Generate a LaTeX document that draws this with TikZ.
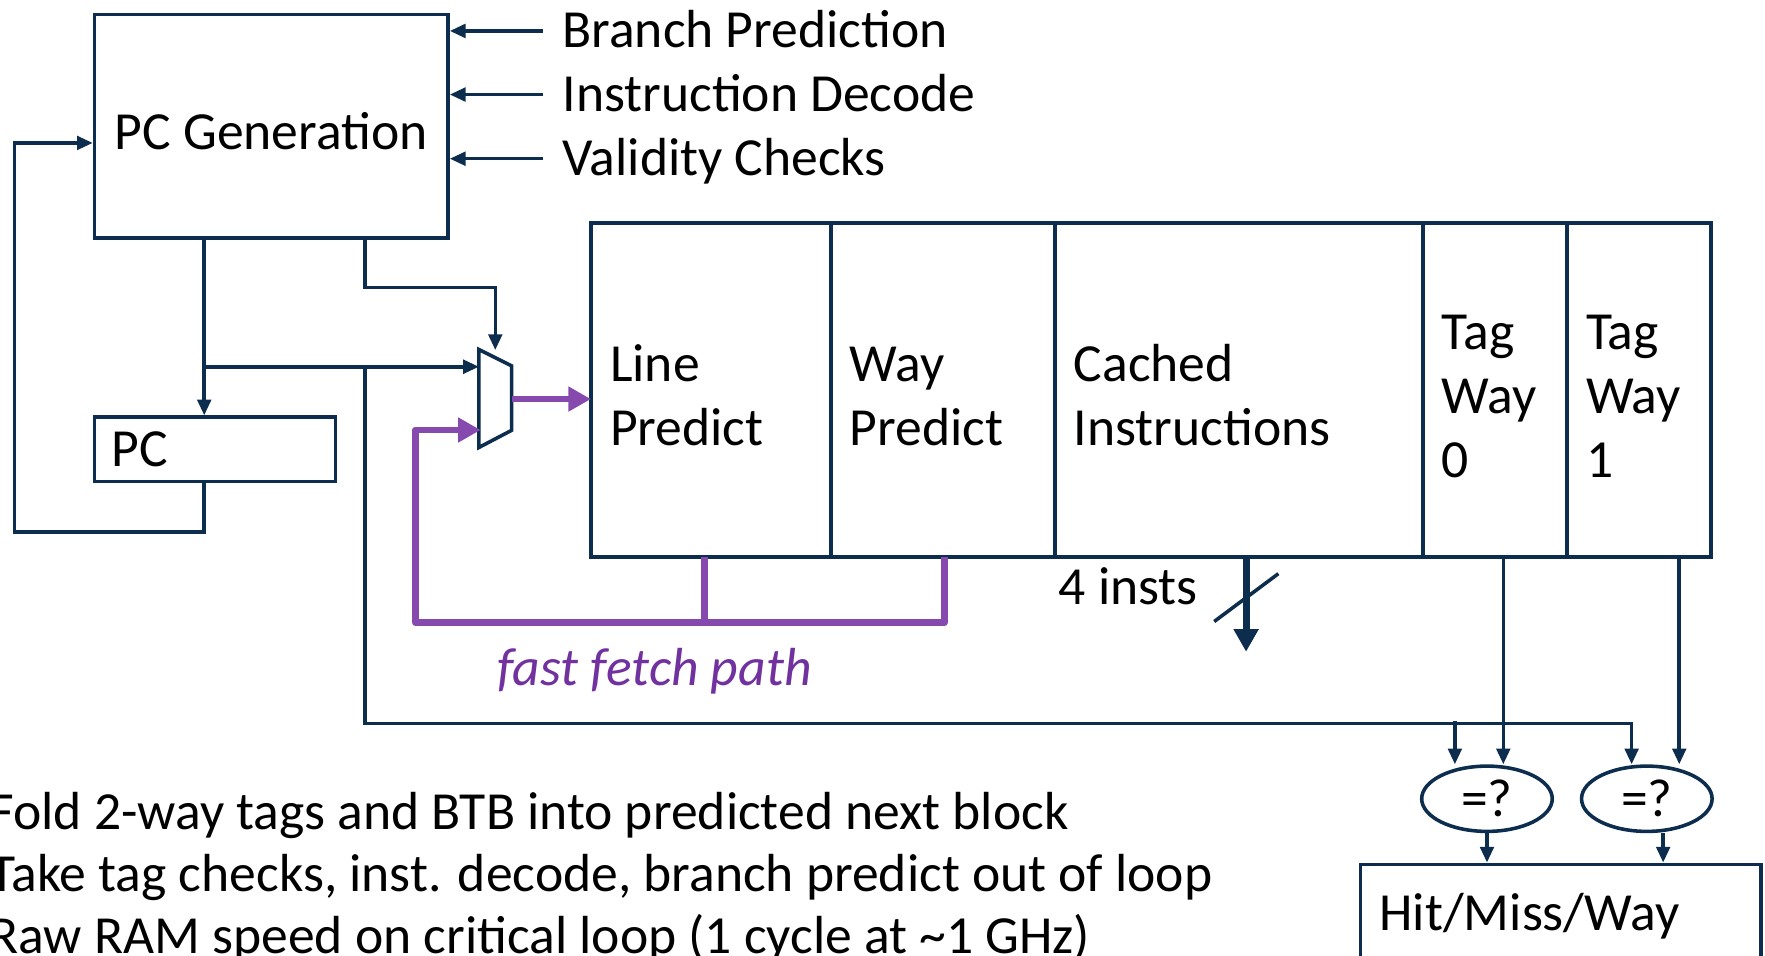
\documentclass[tikz,border=0pt]{standalone}
\usepackage{fontspec}
\setmainfont{Carlito}
\usepackage{xcolor}
\usepackage{tikz}
\usetikzlibrary{calc, positioning, arrows.meta, shapes.geometric}
\definecolor{navy}{RGB}{12,45,77}
\definecolor{fastLine}{RGB}{134,73,173}
\definecolor{fastInk}{RGB}{113,50,160}
\tikzset{
    every node/.style={font=\fontsize{13.55}{16.2}\selectfont},
    block/.style={rectangle, draw=navy, line width=0.9pt, fill=white, align=center, execute at begin node={\rule{0pt}{12pt}}},
    reg/.style={rectangle, draw=navy, line width=0.9pt, fill=white, align=left, inner xsep=1.5mm},
    cell/.style={rectangle, draw=navy, line width=0.9pt, outer sep=0pt, minimum height=2.97cm, align=left, inner xsep=1.7mm, execute at begin node={\rule{0pt}{12pt}}},
    cmp/.style={ellipse, draw=navy, line width=0.9pt, fill=white, minimum width=1.16cm, minimum height=0.58cm, inner sep=0pt},
    inLabel/.style={anchor=west, inner xsep=1.7mm, text height=8.6pt, text depth=0pt},
    note/.style={anchor=base west, inner sep=0pt},
    fastLabel/.style={note, text=fastInk, font=\fontsize{13.55}{16.2}\selectfont\itshape},
    wire/.style={draw=navy, line width=0.9pt},
    arrow/.style={wire, -{Triangle[length=1.4mm, width=1.2mm]}},
    bus/.style={draw=navy, line width=1.8pt, -{Triangle[length=2mm, width=2.1mm]}},
    fastpath/.style={draw=fastLine, line width=1.7pt, line join=round},
    fastarrow/.style={fastpath, -{Triangle[length=2mm, width=2.1mm]}}
}

\begin{document}
\begin{tikzpicture}
        \useasboundingbox (0,0) rectangle (15.68,-8.49);
        \clip (0,0) rectangle (15.68,-8.49);

        % PC generation and PC register
        \node[block, minimum width=3.14cm, minimum height=1.985cm] (PCGen) at (2.41,-1.122) {PC Generation};
        \node[reg, text width=1.84cm, minimum width=2.14cm, minimum height=0.572cm, below=1.56cm of PCGen.south west, anchor=north west] (PCReg) {PC};

        % Inputs to PC generation
        \node[inLabel] (BrPred) at (4.82,-0.275) {Branch Prediction};
        \node[inLabel] (InstDec) at (4.82,-0.84) {Instruction Decode};
        \node[inLabel] (ValChk) at (4.82,-1.41) {Validity Checks};
        \draw[arrow] (BrPred.west) -- (BrPred.west -| PCGen.east);
        \draw[arrow] (InstDec.west) -- (InstDec.west -| PCGen.east);
        \draw[arrow] (ValChk.west) -- (ValChk.west -| PCGen.east);

        % Cache line
        \node[cell, text width=1.79cm, anchor=north west] (LinePred) at (5.25,-1.98) {Line\\Predict};
        \node[cell, text width=1.65cm, right=0pt of LinePred] (WayPred) {Way\\Predict};
        \node[cell, text width=2.93cm, right=0pt of WayPred] (Cached) {Cached\\Instructions};
        \node[cell, text width=0.94cm, right=0pt of Cached] (TagA) {Tag\\Way\\0};
        \node[cell, text width=0.94cm, right=0pt of TagA] (TagB) {Tag\\Way\\1};

        % Mux
        \coordinate (muxLT) at (4.255,-3.105);
        \coordinate (muxRT) at (4.545,-3.25);
        \coordinate (muxRB) at (4.545,-3.823);
        \coordinate (muxLB) at (4.255,-3.975);
        \coordinate (muxInA) at (4.255,-3.258);
        \coordinate (muxInB) at (4.27,-3.82);
        \coordinate (muxSel) at (4.40,-3.11);
        \coordinate (muxOut) at (4.545,-3.545);
        \draw[wire, fill=white] (muxLT) -- (muxRT) -- (muxRB) -- (muxLB) -- cycle;

        % PC paths
        \coordinate (genOut) at ([xshift=9.9mm]PCGen.south west);
        \coordinate (selOut) at ([xshift=24.17mm]PCGen.south west);
        \coordinate (loopTop) at (0.13,-1.27);
        \draw[arrow] (genOut) -- (genOut |- PCReg.north);
        \draw[arrow] (genOut |- muxInA) -- (muxInA);
        \draw[arrow] (selOut) -- ++(0,-0.425) -| (muxSel);
        \draw[arrow] (genOut |- PCReg.south) -- ++(0,-0.43) -| (loopTop) -- (loopTop -| PCGen.west);

        % Tag compare
        \node[cmp] (CmpA) at (13.21,-7.096) {=?};
        \node[cmp] (CmpB) at (14.63,-7.096) {=?};
        \node[reg, anchor=north west, text width=3.22cm, minimum width=3.56cm, minimum height=0.92cm, inner xsep=1.7mm] (HitMiss) at (12.07,-7.663) {Hit/Miss/Way};

        \coordinate (pcBus) at (0,-6.426);
        \coordinate (addrA) at ([xshift=-2.85mm]CmpA.north);
        \coordinate (tagAin) at ([xshift=1.45mm]CmpA.north);
        \coordinate (tagBin) at ([xshift=2.88mm]CmpB.north);
        \coordinate (cmpBout) at ([xshift=1.45mm]CmpB.south);
        \draw[arrow] (selOut |- muxInA) -- (selOut |- pcBus) -| ([xshift=-1.35mm]CmpB.north);
        \draw[arrow] (addrA |- pcBus) ++(0,0.02) -- (addrA);
        \draw[arrow] (TagA.south -| tagAin) -- (tagAin);
        \draw[arrow] (TagB.south -| tagBin) -- (tagBin);
        \draw[arrow] (CmpA.south) -- (CmpA.south |- HitMiss.north);
        \draw[arrow] (cmpBout) -- (cmpBout |- HitMiss.north);

        % Fast fetch path
        \coordinate (fastCorner) at (3.69,-5.53);
        \coordinate (lineDrop) at ([xshift=10.06mm]LinePred.south west);
        \coordinate (wayDrop) at ([xshift=10.1mm]WayPred.south west);
        \draw[fastpath] (lineDrop) -- (lineDrop |- fastCorner);
        \draw[fastarrow] (wayDrop) |- (fastCorner) |- (muxInB);
        \draw[fastarrow] (muxOut) -- (muxOut -| LinePred.west);
        \node[fastLabel] (fastLbl) at (4.41,-6.094) {fast fetch path};

        % Instruction output
        \draw[bus] ([xshift=17mm]Cached.south west) -- coordinate[pos=0.43] (busMid) ++(0,-0.84);
        \draw[wire] ([shift={(-0.283,-0.21)}]busMid) -- ([shift={(0.287,0.215)}]busMid);
        \node[note] (instLbl) at (9.40,-5.37) {4 insts};

        % Notes
        \node[note] (noteA) at (-0.10,-7.367) {Fold 2-way tags and BTB into predicted next block};
        \node[note] (noteB) at (-0.10,-7.921) {Take tag checks, inst. decode, branch predict out of loop};
        \node[note] (noteC) at (-0.10,-8.475) {Raw RAM speed on critical loop (1 cycle at \textasciitilde1 GHz)};
    \end{tikzpicture}
\end{document}
